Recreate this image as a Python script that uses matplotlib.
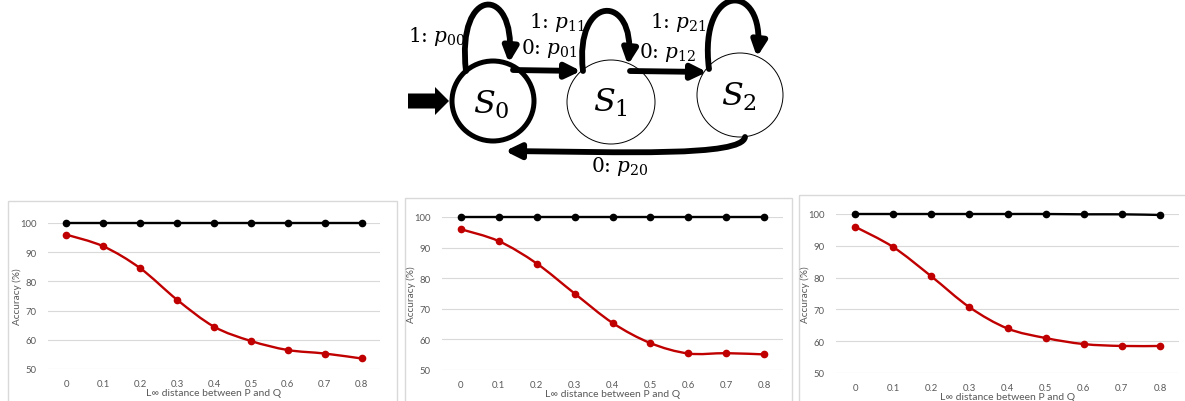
import matplotlib
matplotlib.use("Agg")
import matplotlib.pyplot as plt
import numpy as np
from matplotlib.patches import Ellipse, FancyArrow, FancyArrowPatch, PathPatch, Rectangle
from matplotlib.path import Path

plt.rcParams['font.family'] = ['Lato', 'DejaVu Sans']
plt.rcParams['mathtext.fontset'] = 'dejavuserif'

# data
distances = [0, 0.1, 0.2, 0.3, 0.4, 0.5, 0.6, 0.7, 0.8]
tick_labels = ["0", "0.1", "0.2", "0.3", "0.4", "0.5", "0.6", "0.7", "0.8"]
y_ticks = [50, 60, 70, 80, 90, 100]

black_a = [100, 100, 100, 100, 100, 100, 100, 100, 100]
red_a = [96.0, 92.0, 84.5, 73.7, 64.5, 59.6, 56.5, 55.3, 53.6]

black_b = [100, 100, 100, 100, 100, 100, 100, 100, 100]
red_b = [96.0, 92.1, 84.8, 75.0, 65.4, 58.8, 55.4, 55.5, 55.1]

black_c = [100, 100, 100, 100, 100, 100, 99.9, 99.9, 99.7]
red_c = [96.0, 89.6, 80.4, 70.7, 64.0, 61.0, 59.1, 58.5, 58.5]

# state diagram labels
state_names = [r"$S_0$", r"$S_1$", r"$S_2$"]
edge_labels = [r"1: $p_{00}$", r"0: $p_{01}$", r"1: $p_{11}$",
               r"0: $p_{12}$", r"1: $p_{21}$", r"0: $p_{20}$"]

W, H = 1185, 402
fig = plt.figure(figsize=(W / 100, H / 100), dpi=100)

# pixel canvas for the diagram and the panel frames
canvas = fig.add_axes([0, 0, 1, 1])
canvas.set_xlim(0, W)
canvas.set_ylim(H, 0)
canvas.axis('off')

frame_col = '#d9d9d9'
for (fx, fy, fw) in [(8, 202, 389), (405, 199, 387), (799, 196, 400)]:
    canvas.add_patch(Rectangle((fx, fy), fw, 230, fill=False, edgecolor=frame_col, lw=1))

# --- state diagram ---
canvas.add_patch(Ellipse((493, 102), 82, 80, fill=False, edgecolor='black', lw=3.6))
canvas.add_patch(Ellipse((611, 103), 88, 84, fill=False, edgecolor='black', lw=0.7))
canvas.add_patch(Ellipse((740, 96), 86, 84, fill=False, edgecolor='black', lw=0.7))
for (cx, cy), name in zip([(491, 105), (610, 103), (739, 97)], state_names):
    canvas.text(cx, cy, name, fontsize=23, ha='center', va='center')

label_pos = [(437, 36), (549, 49), (557, 22), (668, 52), (678, 22), (620, 167)]
for (lx, ly), lab in zip(label_pos, edge_labels):
    canvas.text(lx, ly, lab, fontsize=14.5, family='DejaVu Serif', ha='center', va='center')

# input arrow
canvas.add_patch(FancyArrow(408, 102, 41, 0, width=15, head_width=28, head_length=14,
                            length_includes_head=True, color='black', lw=0))

head = "-|>,head_length=0.45,head_width=0.22"


def arrow_path(verts, codes):
    p = FancyArrowPatch(path=Path(verts, codes), arrowstyle=head, mutation_scale=20,
                        color='black', lw=4.2, shrinkA=0, shrinkB=0)
    canvas.add_patch(p)


C4 = Path.CURVE4
arrow_path([(513, 71), (581, 72)], [Path.MOVETO, Path.LINETO])
arrow_path([(630, 72), (707, 73)], [Path.MOVETO, Path.LINETO])
arrow_path([(466, 72), (456, -14), (516, -14), (509, 64)], [Path.MOVETO, C4, C4, C4])
arrow_path([(583, 72), (574, -6), (636, -6), (628, 66)], [Path.MOVETO, C4, C4, C4])
arrow_path([(709, 70), (698, -18), (766, -18), (757, 58)], [Path.MOVETO, C4, C4, C4])
arrow_path([(745, 138), (742, 158), (620, 153), (505, 152)], [Path.MOVETO, C4, C4, C4])


def smooth_path(xs, ys):
    pts = np.column_stack([xs, ys]).astype(float)
    verts = [pts[0]]
    codes = [Path.MOVETO]
    n = len(pts)
    for i in range(n - 1):
        p0 = pts[max(i - 1, 0)]
        p1 = pts[i]
        p2 = pts[i + 1]
        p3 = pts[min(i + 2, n - 1)]
        verts += [p1 + (p2 - p0) / 6, p2 - (p3 - p1) / 6, p2]
        codes += [Path.CURVE4] * 3
    return Path(verts, codes)


def px_rect(l, t, r, b):
    return [l / W, (H - b) / H, (r - l) / W, (b - t) / H]


def draw_panel(rect, black_vals, red_vals):
    ax = fig.add_axes(rect)
    ax.set_xlim(-0.05, 0.85)
    ax.set_ylim(50, 100)
    ax.set_yticks(y_ticks)
    ax.set_xticks(distances)
    ax.set_xticklabels(tick_labels)
    ax.grid(axis='y', color=frame_col, lw=0.8)
    ax.set_axisbelow(True)
    for s in ax.spines.values():
        s.set_visible(False)
    ax.tick_params(axis='both', length=0, labelsize=6.8, labelcolor='#595959')
    ax.tick_params(axis='y', pad=8)
    ax.tick_params(axis='x', pad=7)
    for vals, col in [(black_vals, 'black'), (red_vals, '#c00000')]:
        ax.add_patch(PathPatch(smooth_path(distances, vals), fill=False,
                               edgecolor=col, lw=1.7, clip_on=False))
        ax.plot(distances, vals, 'o', ms=4.5, color=col, clip_on=False, zorder=3)
    ax.set_ylabel('Accuracy (%)', fontsize=7.2, color='#595959', labelpad=-1)
    ax.set_xlabel('L∞ distance between P and Q', fontsize=7.5, color='#595959', labelpad=0)
    return ax


draw_panel(px_rect(48, 224, 380, 370), black_a, red_a)
draw_panel(px_rect(442, 218, 783, 371), black_b, red_b)
draw_panel(px_rect(836, 215, 1179, 374), black_c, red_c)

fig.savefig("out.png", dpi=100)
